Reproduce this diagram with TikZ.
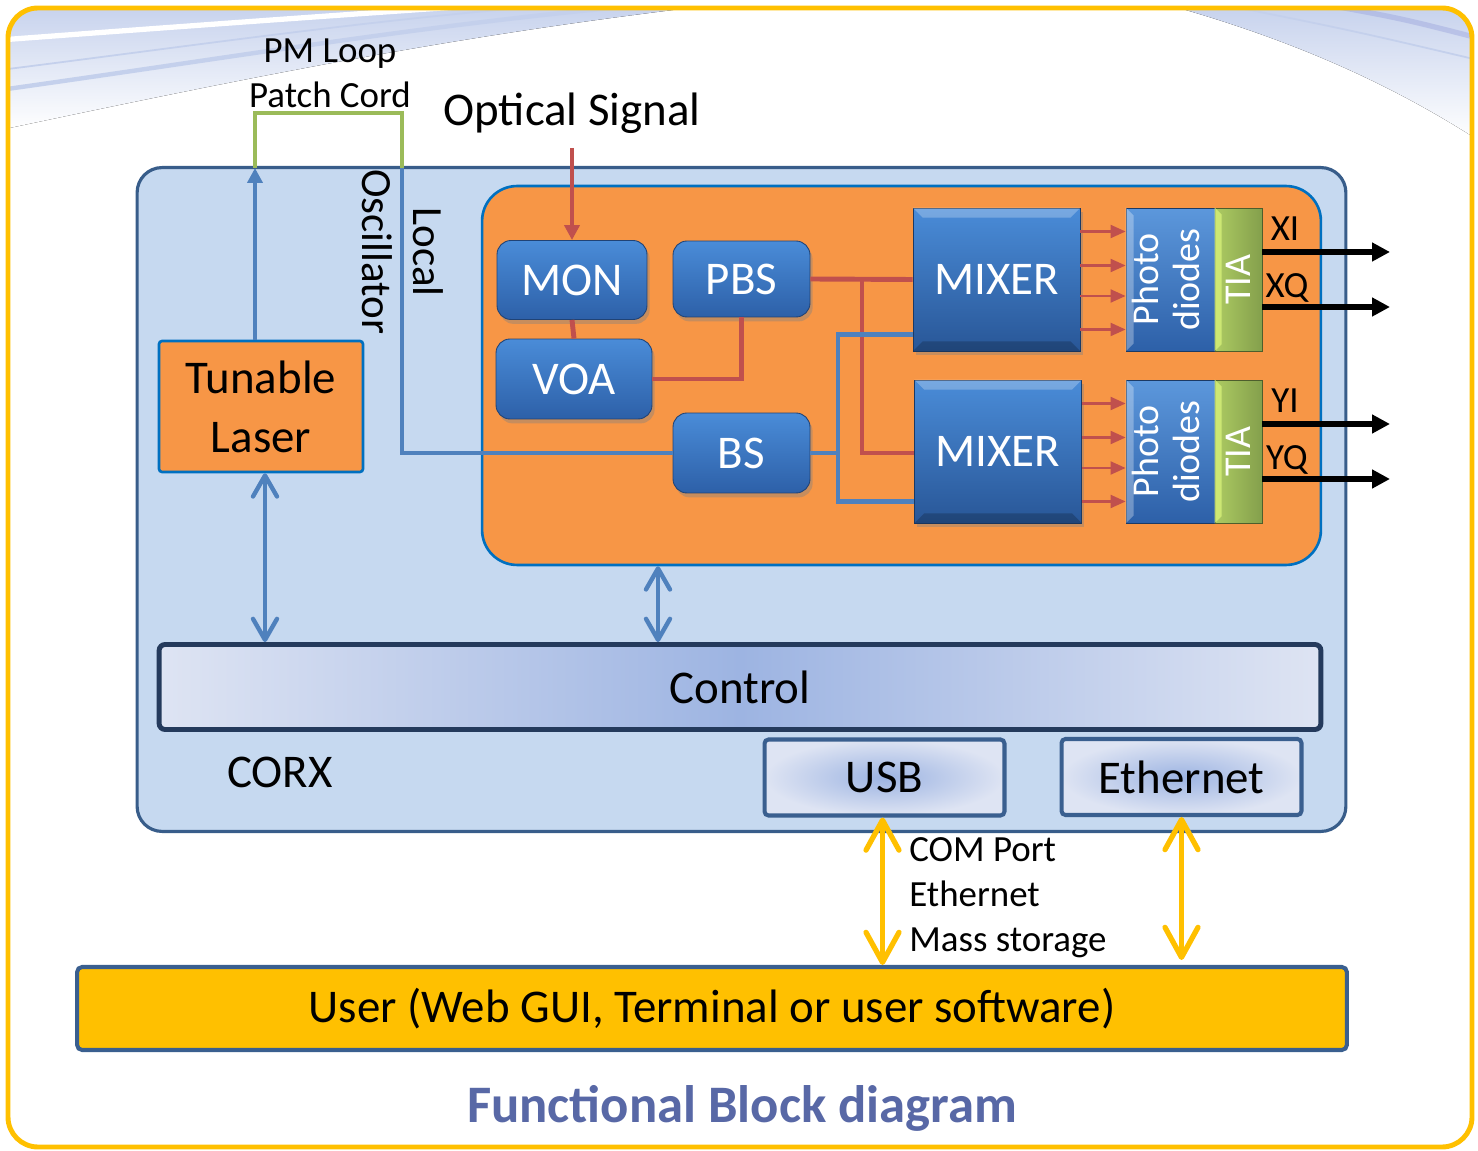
\documentclass[tikz,border=0pt]{standalone}
\usepackage{fontspec}
\setmainfont{Carlito}
\usepackage{graphicx}
\usetikzlibrary{positioning, arrows.meta, shadows}

\definecolor{corxfill}{RGB}{198,217,240}
\definecolor{corxdraw}{RGB}{56,93,138}
\definecolor{rxfill}{RGB}{247,150,70}
\definecolor{rxdraw}{RGB}{0,112,192}
\definecolor{btntop}{RGB}{74,140,216}
\definecolor{btnbot}{RGB}{45,96,168}
\definecolor{sigred}{RGB}{192,80,77}
\definecolor{sigblue}{RGB}{79,129,189}
\definecolor{cordgreen}{RGB}{155,187,89}
\definecolor{tialight}{RGB}{214,240,120}
\definecolor{goldyel}{RGB}{255,192,0}
\definecolor{ctrlmid}{RGB}{157,180,226}
\definecolor{ctrlend}{RGB}{222,228,243}
\definecolor{ctrldraw}{RGB}{36,58,92}
\definecolor{portdraw}{RGB}{58,95,143}
\definecolor{titleblue}{RGB}{88,104,166}
\definecolor{streak}{RGB}{196,208,236}

\newcommand{\fontbig}{\fontsize{26.7}{33.6}\selectfont}
\newcommand{\fontmid}{\fontsize{21}{25.6}\selectfont}
\newcommand{\fontpd}{\fontsize{21.6}{23.5}\selectfont}
\newcommand{\fontlo}{\fontsize{24.5}{29}\selectfont}
\newcommand{\fonttitle}{\fontsize{30}{36}\selectfont\bfseries}

\begin{document}
\begin{tikzpicture}[x=0.02cm, y=-0.02cm,
	btn/.style={rounded corners=0.28cm, top color=btntop, bottom color=btnbot, draw=btnbot!70!black, line width=0.5pt, text=white, font=\fontbig, drop shadow={shadow xshift=1.5pt, shadow yshift=-2.5pt, opacity=0.4}},
	mixbox/.style={top color=btntop, bottom color=btnbot!90!black, draw=btnbot!60!black, line width=0.5pt, text=white, font=\fontbig, minimum width=3.34cm, minimum height=2.86cm, drop shadow={shadow xshift=1.5pt, shadow yshift=-2.5pt, opacity=0.4}},
	pdbox/.style={top color=btntop!90!white, bottom color=btnbot, draw=btnbot!60!black, line width=0.5pt, text=white, font=\fontpd, minimum width=1.78cm, minimum height=2.86cm, inner sep=0pt},
	tiabox/.style={left color=cordgreen!70!tialight, right color=cordgreen!85!black, draw=cordgreen!50!black, line width=0.5pt, text=white, font=\fontpd, minimum width=0.94cm, minimum height=2.86cm, inner sep=0pt},
	redline/.style={draw=sigred, line width=2.8pt},
	blueline/.style={draw=sigblue, line width=2.8pt},
	pdarrow/.style={draw=sigred, line width=1.2pt, -{Triangle[length=0.3cm, width=0.26cm]}},
	outarrow/.style={draw=black, line width=3.2pt, -{Triangle[length=0.36cm, width=0.36cm]}},
	bidir/.style={draw=sigblue, line width=2.5pt, {Straight Barb[round, length=0.42cm, width=0.48cm]}-{Straight Barb[round, length=0.42cm, width=0.48cm]}},
	ybidir/.style={draw=goldyel, line width=3pt, {Straight Barb[round, length=0.6cm, width=0.66cm]}-{Straight Barb[round, length=0.6cm, width=0.66cm]}},
	portbox/.style={shading=radial, inner color=ctrlmid, outer color=ctrlend, draw=portdraw, line width=2.3pt, rounded corners=0.08cm, font=\fontbig, minimum width=4.8cm, minimum height=1.52cm}
	]
	\useasboundingbox (0,0) rectangle (1478,1151);
	% background streaks
	\begin{scope}
		\clip[rounded corners=0.6cm] (8,8) rectangle (1472,1147);
		\fill[top color=streak, bottom color=white] (0,130) .. controls (260,75) and (480,30) .. (760,0) -- (0,0) -- cycle;
		\draw[white, line width=3pt] (0,40) .. controls (200,25) and (380,12) .. (560,0);
		\draw[streak, line width=2.5pt] (0,90) .. controls (250,55) and (450,20) .. (700,0);
		\draw[streak, line width=1pt] (0,70) .. controls (200,45) and (400,15) .. (620,0);
		\fill[top color=streak, bottom color=white] (1150,0) .. controls (1300,40) and (1400,90) .. (1478,140) -- (1478,0) -- cycle;
		\draw[streak!80!blue!90!black, opacity=0.35, line width=3pt] (1300,0) .. controls (1400,18) .. (1478,38);
		\draw[streak, line width=1pt] (1200,0) .. controls (1350,30) .. (1478,60);
	\end{scope}
	\draw[goldyel, line width=2.8pt, rounded corners=0.6cm] (8,8) rectangle (1472,1147);

	% CORX housing and receiver
	\node[fill=corxfill, draw=corxdraw, line width=1.8pt, rounded corners=0.5cm, minimum width=24.18cm, minimum height=13.28cm] (corx) at (741.5,499.5) {};
	\node[fill=rxfill, draw=rxdraw, line width=1.5pt, rounded corners=0.7cm, minimum width=16.78cm, minimum height=7.58cm] (rx) at (901.5,375.5) {};
	\node[font=\fontbig] (corxlbl) at (280,772) {CORX};

	% laser and patch cord
	\node[fill=rxfill, draw=rxdraw, line width=1.5pt, rounded corners=0.06cm, minimum width=4.08cm, minimum height=2.62cm, font=\fontbig, align=center] (laser) at (261,406.5) {Tunable\\Laser};
	\coordinate (pma) at (255,168);
	\coordinate (lo) at (402,168);
	\draw[draw=sigblue, line width=2.8pt, -{Triangle[length=0.3cm, width=0.3cm]}] (laser.north -| pma) -- (pma);
	\draw[draw=cordgreen, line width=2.8pt] (pma) -- (255,113) -- (402,113) -- (lo);
	\node[font=\fontmid, align=center] (pmlbl) at (330,73) {PM Loop\\Patch Cord};
	\node[font=\fontlo, rotate=-90, align=center] (lotext) at (403,252) {Local\\Oscillator};

	% optical blocks
	\node[btn, minimum width=3.0cm, minimum height=1.58cm] (mon) at (572,280) {MON};
	\node[btn, minimum width=2.74cm, minimum height=1.52cm] (pbs) at (741.5,279) {PBS};
	\node[btn, minimum width=3.12cm, minimum height=1.6cm] (voa) at (574,379) {VOA};
	\node[btn, minimum width=2.74cm, minimum height=1.6cm] (bs) at (741.5,453) {BS};
	\node[mixbox] (mixA) at (996.5,279.5) {MIXER};
	\node[mixbox] (mixB) at (998,451.5) {MIXER};
	\node[pdbox] (pdA) at (1170.5,279.5) {\rotatebox{90}{\begin{tabular}{@{}c@{}}Photo\\diodes\end{tabular}}};
	\node[tiabox] (tiaA) at (1238.5,279.5) {\rotatebox{90}{TIA}};
	\node[pdbox] (pdB) at (1170.5,451.5) {\rotatebox{90}{\begin{tabular}{@{}c@{}}Photo\\diodes\end{tabular}}};
	\node[tiabox] (tiaB) at (1238.5,451.5) {\rotatebox{90}{TIA}};
	\foreach \m in {mixA,mixB} {
		\fill[white, opacity=0.25] (\m.north west) -- (\m.north east) -- ([shift={(-10,10)}]\m.north east) -- ([shift={(10,10)}]\m.north west) -- cycle;
		\fill[black, opacity=0.2] (\m.south west) -- (\m.south east) -- ([shift={(-10,-10)}]\m.south east) -- ([shift={(10,-10)}]\m.south west) -- cycle;
	}
	\foreach \m in {pdA,pdB} {
		\fill[white, opacity=0.3] (\m.north west) -- ([shift={(8,8)}]\m.north west) -- ([shift={(8,-8)}]\m.south west) -- (\m.south west) -- cycle;
	}
	\foreach \m in {tiaA,tiaB} {
		\fill[tialight, opacity=0.8] (\m.north west) -- ([shift={(7,7)}]\m.north west) -- ([shift={(7,-7)}]\m.south west) -- (\m.south west) -- cycle;
	}

	% signal path
	\node[font=\fontbig, anchor=base] (osig) at (572,126) {Optical Signal};
	\coordinate (osin) at (572,148);
	\draw[redline, -{Triangle[length=0.3cm, width=0.3cm]}] (osin) -- (mon.north);
	\draw[redline] (mon.south) -- (voa.north);
	\draw[redline] (voa.east) -| (pbs.south);
	\draw[redline] (pbs.east) -- (mixA.west);
	\coordinate (rj) at (862,279.5);
	\draw[redline] (rj) |- ([yshift=-0.03cm]mixB.west);
	% local oscillator path
	\draw[blueline] (lo) |- (bs.west);
	\coordinate (bj) at (838,453);
	\draw[blueline] (bs.east) -- (bj);
	\draw[blueline] ([yshift=-1.1cm]mixA.west) -| (bj) |- ([yshift=-1.0cm]mixB.west);

	% mixer to photodiodes
	\foreach \d in {0.96,0.28,-0.33,-1.0} {
		\draw[pdarrow] ([yshift=\d cm]mixA.east) -- ([yshift=\d cm]pdA.west);
		\draw[pdarrow] ([yshift=\d cm]mixB.east) -- ([yshift=\d cm]pdB.west);
	}

	% outputs
	\coordinate (xi) at (1390,252);
	\coordinate (xq) at (1390,307);
	\coordinate (yi) at (1390,424);
	\coordinate (yq) at (1390,479);
	\draw[outarrow] (tiaA.east |- xi) -- (xi);
	\draw[outarrow] (tiaA.east |- xq) -- (xq);
	\draw[outarrow] (tiaB.east |- yi) -- (yi);
	\draw[outarrow] (tiaB.east |- yq) -- (yq);
	\node[font=\fontmid, anchor=base] (xilbl) at (1285,241) {XI};
	\node[font=\fontmid, anchor=base] (xqlbl) at (1287,298) {XQ};
	\node[font=\fontmid, anchor=base] (yilbl) at (1285,413) {YI};
	\node[font=\fontmid, anchor=base] (yqlbl) at (1287,470) {YQ};

	% control and ports
	\node[left color=ctrlend, right color=ctrlend, middle color=ctrlmid, draw=ctrldraw, line width=2.8pt, rounded corners=0.12cm, minimum width=23.24cm, minimum height=1.7cm, font=\fontbig] (control) at (740,687) {Control};
	\node[portbox] (usb) at (884.5,777.5) {USB};
	\node[portbox] (eth) at (1181.5,777) {Ethernet};
	\coordinate (ca) at (658,600);
	\draw[bidir] ([xshift=0.08cm]laser.south) -- ([xshift=0.08cm]laser.south |- control.north);
	\draw[bidir] (rx.south -| ca) -- (control.north -| ca);

	% user
	\node[fill=goldyel, draw=portdraw, line width=2.3pt, rounded corners=0.1cm, minimum width=25.4cm, minimum height=1.66cm, font=\fontbig] (user) at (712,1008.5) {User (Web GUI, Terminal or user software)};
	\draw[ybidir] ([xshift=-0.04cm]usb.south) -- ([xshift=-0.04cm]usb.south |- user.north);
	\draw[ybidir, shorten >=0.1cm] (eth.south) -- (eth.south |- user.north);
	\node[font=\fontmid, align=left, anchor=west, inner sep=0pt] (ifaces) at (909,898) {COM Port\\Ethernet\\Mass storage};

	\node[font=\fonttitle, text=titleblue] (title) at (742,1108) {Functional Block diagram};
\end{tikzpicture}
\end{document}
